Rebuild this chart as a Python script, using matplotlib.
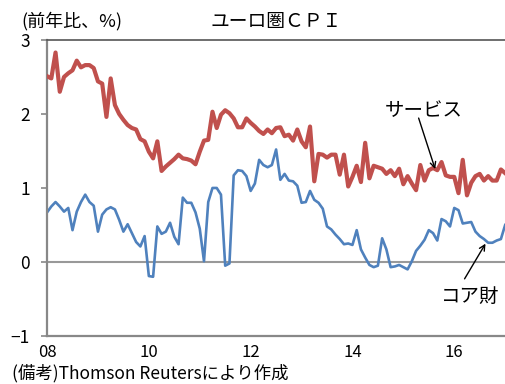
import matplotlib.pyplot as plt
import numpy as np

plt.rcParams['font.family'] = ['Noto Sans CJK JP', 'DejaVu Sans']

# Monthly, Jan 2008 - Jan 2017 (y/y %)
services = [2.51, 2.48, 2.83, 2.30, 2.50, 2.55, 2.59, 2.72, 2.63, 2.66, 2.66, 2.62,
            2.44, 2.41, 1.96, 2.48, 2.12, 2.00, 1.92, 1.85, 1.81, 1.79, 1.66, 1.63,
            1.49, 1.40, 1.63, 1.23, 1.29, 1.34, 1.39, 1.45, 1.40, 1.39, 1.37, 1.32,
            1.49, 1.64, 1.65, 2.03, 1.81, 1.99, 2.05, 2.01, 1.94, 1.82, 1.82, 1.94,
            1.88, 1.83, 1.77, 1.73, 1.79, 1.74, 1.81, 1.82, 1.70, 1.72, 1.64, 1.79,
            1.63, 1.55, 1.83, 1.09, 1.46, 1.45, 1.41, 1.45, 1.45, 1.18, 1.45, 1.02,
            1.15, 1.30, 1.08, 1.61, 1.13, 1.30, 1.28, 1.26, 1.19, 1.24, 1.16, 1.26,
            1.05, 1.16, 1.06, 0.97, 1.31, 1.10, 1.24, 1.27, 1.24, 1.35, 1.17, 1.15,
            1.15, 0.93, 1.38, 0.90, 1.07, 1.16, 1.19, 1.10, 1.16, 1.10, 1.10, 1.25,
            1.20]
core_goods = [0.67, 0.75, 0.81, 0.75, 0.68, 0.73, 0.43, 0.68, 0.81, 0.91, 0.81, 0.76,
              0.41, 0.64, 0.71, 0.74, 0.71, 0.57, 0.41, 0.51, 0.39, 0.27, 0.21, 0.35,
              -0.19, -0.20, 0.48, 0.38, 0.41, 0.53, 0.34, 0.24, 0.87, 0.80, 0.80, 0.67,
              0.45, 0.01, 0.81, 1.00, 1.00, 0.91, -0.05, -0.02, 1.17, 1.24, 1.23, 1.16,
              0.96, 1.06, 1.38, 1.31, 1.28, 1.31, 1.52, 1.11, 1.19, 1.10, 1.09, 1.03,
              0.80, 0.81, 0.96, 0.84, 0.80, 0.72, 0.48, 0.44, 0.37, 0.31, 0.24, 0.25,
              0.23, 0.43, 0.17, 0.06, -0.04, -0.07, -0.05, 0.32, 0.17, -0.07, -0.06, -0.04,
              -0.07, -0.10, 0.01, 0.15, 0.22, 0.30, 0.43, 0.39, 0.29, 0.58, 0.55, 0.48,
              0.73, 0.70, 0.52, 0.53, 0.54, 0.41, 0.35, 0.31, 0.26, 0.26, 0.29, 0.31,
              0.50]
year_labels = ['08', '10', '12', '14', '16']

months = np.arange(len(services))

fig = plt.figure(figsize=(5.06, 3.84), dpi=100)
ax = fig.add_axes([0.093, 0.125, 0.907, 0.771])

ax.axhline(0, color='#999999', lw=1.5, zorder=1)
ax.plot(months, services, color='#C0504D', lw=3.0, zorder=3)
ax.plot(months, core_goods, color='#4F81BD', lw=1.9, zorder=2)

ax.set_xlim(0, 108.2)
ax.set_ylim(-1, 3)
ax.set_yticks([-1, 0, 1, 2, 3])
ax.set_xticks(np.arange(0, 108, 24))
ax.set_xticklabels(year_labels)
ax.tick_params(axis='y', length=4.5, width=1.2, color='#888888', pad=8, labelsize=12.5)
ax.tick_params(axis='x', length=0, pad=6, labelsize=12)

# Spines
ax.spines['right'].set_visible(False)
ax.spines['top'].set_color('#555555')
ax.spines['top'].set_linewidth(1.2)
for s in ['left', 'bottom']:
    ax.spines[s].set_color('#888888')
    ax.spines[s].set_linewidth(1.6)

# Labels on the lines
ax.text(88.7, 2.05, 'サービス', fontsize=14, ha='center', va='center')
ax.annotate('', xy=(91.7, 1.22), xytext=(87.4, 1.98),
            arrowprops=dict(arrowstyle='->', color='black', lw=1))
ax.text(99.7, -0.46, 'コア財', fontsize=14, ha='center', va='center')
ax.annotate('', xy=(103.7, 0.28), xytext=(98.1, -0.26),
            arrowprops=dict(arrowstyle='->', color='black', lw=1))

fig.text(0.545, 0.945, 'ユーロ圏ＣＰＩ', fontsize=13.5, ha='center', va='center')
fig.text(0.043, 0.921, '(前年比、%)', fontsize=13, ha='left', va='bottom')
fig.text(0.024, 0.004, '(備考)Thomson Reutersにより作成', fontsize=12.5, ha='left', va='bottom')

fig.savefig('out.png', dpi=100)
